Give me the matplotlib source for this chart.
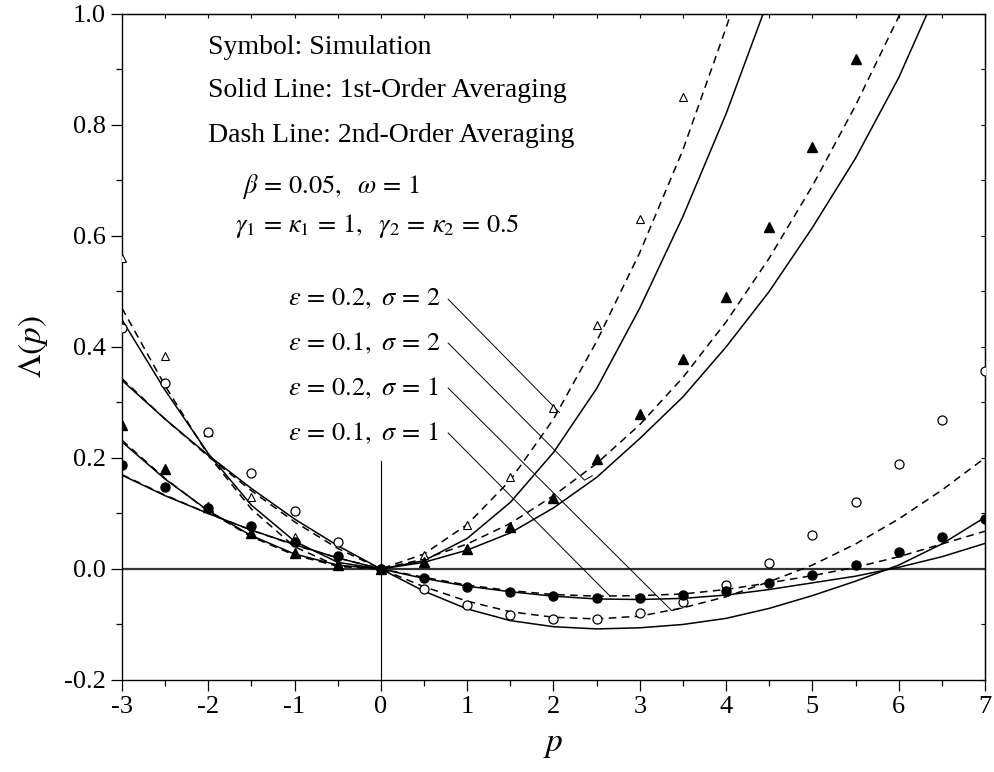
import numpy as np
import matplotlib
matplotlib.use("Agg")
import matplotlib.pyplot as plt

plt.rcParams['font.family'] = ['Liberation Serif', 'DejaVu Serif']
plt.rcParams['mathtext.fontset'] = 'stix'
plt.rcParams['axes.unicode_minus'] = False

#---------------------------------------------------------------------------------#
# simulation points

# eps=0.2, sigma=2 : open triangles
p_ot = [-3, -2.5, -2, -1.5, -1, -0.5, 0, 0.5, 1, 1.5, 2, 2.5, 3, 3.5]
sim_ot = [0.56, 0.384, 0.247, 0.13, 0.058, 0.011, 0, 0.025, 0.079, 0.166, 0.29, 0.44, 0.63, 0.85]

# eps=0.1, sigma=2 : filled triangles
p_ft = [-3, -2.5, -2, -1.5, -1, -0.5, 0, 0.5, 1, 1.5, 2, 2.5, 3, 3.5, 4, 4.5, 5, 5.5]
sim_ft = [0.26, 0.18, 0.112, 0.065, 0.029, 0.007, 0, 0.012, 0.036, 0.075, 0.128, 0.198,
          0.28, 0.378, 0.49, 0.617, 0.76, 0.918]

# eps=0.2, sigma=1 : open circles
p_oc = [-3, -2.5, -2, -1.5, -1, -0.5, 0, 0.5, 1, 1.5, 2, 2.5, 3, 3.5, 4, 4.5, 5, 5.5, 6, 6.5, 7]
sim_oc = [0.434, 0.335, 0.247, 0.173, 0.104, 0.049, 0, -0.036, -0.065, -0.083, -0.09, -0.091,
          -0.08, -0.059, -0.028, 0.011, 0.061, 0.12, 0.19, 0.268, 0.357]

# eps=0.1, sigma=1 : filled circles
p_fc = [-3, -2.5, -2, -1.5, -1, -0.5, 0, 0.5, 1, 1.5, 2, 2.5, 3, 3.5, 4, 4.5, 5, 5.5, 6, 6.5, 7]
sim_fc = [0.187, 0.148, 0.11, 0.077, 0.049, 0.023, 0, -0.016, -0.032, -0.041, -0.049, -0.052,
          -0.052, -0.047, -0.039, -0.026, -0.011, 0.008, 0.031, 0.058, 0.09]

#---------------------------------------------------------------------------------#
# averaging curves (solid = 1st order, dash = 2nd order)

p_line = [-3, -2.5, -2, -1.5, -1, -0.5, 0, 0.5, 1, 1.5, 2, 2.5, 3, 3.5, 4, 4.5, 5, 5.5, 6, 6.5, 7]

first_ot = [0.449, 0.322, 0.208, 0.115, 0.05, 0.012, 0, 0.015, 0.055, 0.12, 0.21, 0.325,
            0.47, 0.635, 0.82, 1.03]
second_ot = [0.47, 0.33, 0.205, 0.108, 0.04, 0.005, 0, 0.027, 0.08, 0.16, 0.27, 0.41,
             0.57, 0.755, 0.975, 1.21]

first_ft = [0.229, 0.162, 0.105, 0.06, 0.027, 0.007, 0, 0.012, 0.034, 0.065, 0.11, 0.165,
            0.235, 0.31, 0.4, 0.5, 0.615, 0.74, 0.885, 1.06]
second_ft = [0.232, 0.163, 0.104, 0.058, 0.025, 0.005, 0, 0.018, 0.045, 0.082, 0.132, 0.19,
             0.26, 0.345, 0.445, 0.56, 0.69, 0.835, 0.995, 1.17]

first_oc = [0.34, 0.27, 0.205, 0.145, 0.09, 0.042, 0, -0.04, -0.072, -0.093, -0.104, -0.108,
            -0.106, -0.1, -0.089, -0.071, -0.048, -0.022, 0.007, 0.045, 0.093]
second_oc = [0.343, 0.27, 0.203, 0.141, 0.085, 0.037, 0, -0.032, -0.058, -0.077, -0.087, -0.09,
             -0.085, -0.07, -0.05, -0.023, 0.007, 0.045, 0.09, 0.142, 0.2]

first_fc = [0.169, 0.132, 0.1, 0.07, 0.044, 0.02, 0, -0.017, -0.031, -0.041, -0.049, -0.054,
            -0.055, -0.053, -0.047, -0.037, -0.025, -0.013, 0.003, 0.022, 0.046]
second_fc = [0.17, 0.133, 0.1, 0.07, 0.043, 0.02, 0, -0.015, -0.029, -0.039, -0.046, -0.049,
             -0.048, -0.045, -0.037, -0.025, -0.012, 0.003, 0.022, 0.045, 0.068]

# case labels and where their leader lines point
case_labels = [r'$\varepsilon\,=\,0.2,\ \sigma\,=\,2$', r'$\varepsilon\,=\,0.1,\ \sigma\,=\,2$',
               r'$\varepsilon\,=\,0.2,\ \sigma\,=\,1$', r'$\varepsilon\,=\,0.1,\ \sigma\,=\,1$']
label_y = [0.486, 0.407, 0.326, 0.245]
leader_x = [[0.78, 2.07], [0.78, 2.36, 2.45], [0.78, 3.37, 3.5], [0.78, 2.65]]
leader_y = [[0.486, 0.282], [0.407, 0.16, 0.168], [0.326, -0.075, -0.07], [0.245, -0.048]]

#---------------------------------------------------------------------------------#

fig = plt.figure(figsize=(9.94, 7.72), dpi=100)
ax = fig.add_axes([0.1227, 0.1192, 0.8682, 0.8627])

ax.axhline(0, color='#333333', lw=1.6, zorder=1)
ax.plot([0, 0], [-0.2, 0.195], color='black', lw=0.8, zorder=1)

dash = (5, 3.5)
for first, second in [(first_ot, second_ot), (first_ft, second_ft),
                      (first_oc, second_oc), (first_fc, second_fc)]:
    ax.plot(p_line[:len(first)], first, color='black', lw=1.1)
    ax.plot(p_line[:len(second)], second, color='black', lw=1.1, dashes=dash)

ax.plot(p_ot, sim_ot, linestyle='none', marker='^', ms=5.5, mfc='white', mec='black', mew=0.8, zorder=5)
ax.plot(p_ft, sim_ft, linestyle='none', marker='^', ms=7, mfc='black', mec='black', zorder=5)
ax.plot(p_oc, sim_oc, linestyle='none', marker='o', ms=6.5, mfc='white', mec='black', mew=0.9, zorder=5)
ax.plot(p_fc, sim_fc, linestyle='none', marker='o', ms=6.5, mfc='black', mec='black', zorder=5)

# text block
ax.text(-2.005, 0.94, 'Symbol: Simulation', fontsize=20, va='center')
ax.text(-2.005, 0.862, 'Solid Line: 1st-Order Averaging', fontsize=20, va='center')
ax.text(-2.005, 0.781, 'Dash Line: 2nd-Order Averaging', fontsize=20, va='center')
ax.text(-1.614, 0.69, r'$\beta\,=\,0.05,\ \ \omega\,=\,1$', fontsize=19, va='center')
ax.text(-1.692, 0.618, r'$\gamma_1\,=\,\kappa_1\,=\,1,\ \ \gamma_2\,=\,\kappa_2\,=\,0.5$', fontsize=19, va='center')

for lab, ly, lx, lys in zip(case_labels, label_y, leader_x, leader_y):
    ax.text(-1.078, ly, lab, fontsize=19, va='center')
    ax.plot(lx, lys, color='black', lw=0.7)

ax.set_xlim(-3, 7)
ax.set_ylim(-0.2, 1.0)
ax.set_xticks(np.arange(-3, 8, 1))
ax.set_xticks(np.arange(-3, 7.5, 0.5), minor=True)
ax.set_yticks(np.arange(-0.2, 1.01, 0.2))
ax.set_yticks(np.arange(-0.2, 1.01, 0.1), minor=True)
ax.set_yticklabels(['%.1f' % v for v in np.arange(-0.2, 1.01, 0.2)])
ax.tick_params(which='both', direction='out', top=False, right=False, labelsize=19, width=0.9)
ax.tick_params(which='major', length=8)
ax.tick_params(which='minor', length=4)

top = ax.secondary_xaxis('top')
top.set_xticks(np.arange(-3, 7.5, 0.5))
top.tick_params(direction='in', length=3, labeltop=False, width=0.8)
right = ax.secondary_yaxis('right')
right.set_yticks(np.arange(-0.2, 1.01, 0.1))
right.tick_params(direction='in', length=3, labelright=False, width=0.8)

for s in ax.spines.values():
    s.set_linewidth(1.0)

ax.set_xlabel(r'$p$', fontsize=24, labelpad=8)
ax.set_ylabel(r'$\Lambda(p)$', fontsize=24, labelpad=10)

fig.savefig('out.png', dpi=100)
